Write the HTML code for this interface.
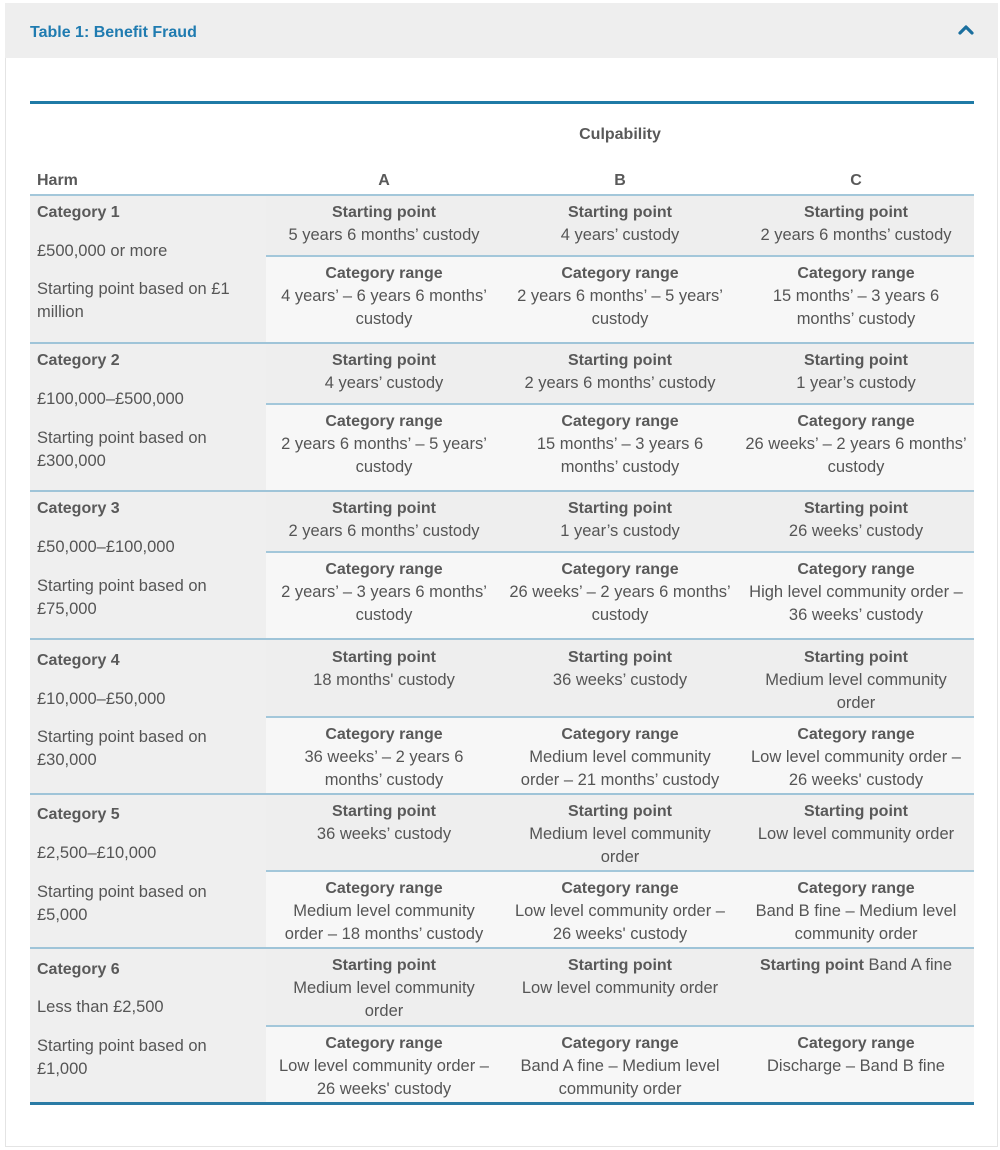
<!DOCTYPE html>
<html><head><meta charset="utf-8"><style>
*{margin:0;padding:0;box-sizing:border-box}
html,body{width:1000px;height:1150px;background:#fff;overflow:hidden}
body{position:relative;font-family:"Liberation Sans",Arial,sans-serif;color:#555}
.card{position:absolute;left:5px;top:3px;width:993px;height:1144px;border:1px solid #e4e4e4;background:#fff}
.hdr{position:absolute;left:5px;top:3px;width:993px;height:55px;background:#eeeeee}
.title{position:absolute;left:30px;top:22px;font-size:16px;font-weight:bold;color:#1f7bb0;line-height:22px;white-space:nowrap}
.r{position:absolute}
.c{position:absolute;width:236px;text-align:center;line-height:23px;font-size:16.5px;white-space:nowrap;margin-top:1px}
.l{position:absolute;left:37px;line-height:23px;font-size:16.5px;white-space:nowrap;margin-top:1px}
b{font-weight:bold;font-size:16px;color:#595959}
.h{font-weight:bold;font-size:16px;color:#595959}
</style></head><body>
<div class="card"></div>
<div class="hdr"></div>
<div class="title">Table 1: Benefit Fraud</div>
<svg class="r" style="left:955px;top:20px" width="22" height="20"><polyline points="5,13 11,7 17,13" fill="none" stroke="#1a6f9e" stroke-width="3.2" stroke-linecap="round" stroke-linejoin="round"/></svg>
<div class="r" style="left:30px;top:101px;width:944px;height:3px;background:#1f7aa6"></div>

<div class="c h" style="left:502px;top:122px">Culpability</div>
<div class="l h" style="top:168px">Harm</div>
<div class="c h" style="left:266px;top:168px">A</div>
<div class="c h" style="left:502px;top:168px">B</div>
<div class="c h" style="left:738px;top:168px">C</div>

<!-- backgrounds -->
<div class="r" style="left:30px;top:195px;width:236px;height:908px;background:#efefef"></div>
<div class="r" style="left:266px;top:195px;width:708px;height:61px;background:#eeeeee"></div>
<div class="r" style="left:266px;top:256px;width:708px;height:87px;background:#f7f7f7"></div>
<div class="r" style="left:266px;top:343px;width:708px;height:61px;background:#eeeeee"></div>
<div class="r" style="left:266px;top:404px;width:708px;height:87px;background:#f7f7f7"></div>
<div class="r" style="left:266px;top:491px;width:708px;height:61px;background:#eeeeee"></div>
<div class="r" style="left:266px;top:552px;width:708px;height:87px;background:#f7f7f7"></div>
<div class="r" style="left:266px;top:639px;width:708px;height:78px;background:#eeeeee"></div>
<div class="r" style="left:266px;top:717px;width:708px;height:77px;background:#f7f7f7"></div>
<div class="r" style="left:266px;top:794px;width:708px;height:77px;background:#eeeeee"></div>
<div class="r" style="left:266px;top:871px;width:708px;height:77px;background:#f7f7f7"></div>
<div class="r" style="left:266px;top:948px;width:708px;height:78px;background:#eeeeee"></div>
<div class="r" style="left:266px;top:1026px;width:708px;height:77px;background:#f7f7f7"></div>

<!-- lines -->
<div class="r" style="left:30px;top:194px;width:944px;height:2px;background:#a3c7da"></div>
<div class="r" style="left:30px;top:342px;width:944px;height:2px;background:#9fc4d8"></div>
<div class="r" style="left:30px;top:490px;width:944px;height:2px;background:#9fc4d8"></div>
<div class="r" style="left:30px;top:638px;width:944px;height:2px;background:#9fc4d8"></div>
<div class="r" style="left:30px;top:793px;width:944px;height:2px;background:#9fc4d8"></div>
<div class="r" style="left:30px;top:947px;width:944px;height:2px;background:#9fc4d8"></div>
<div class="r" style="left:266px;top:255px;width:708px;height:2px;background:#a3c7da"></div>
<div class="r" style="left:266px;top:403px;width:708px;height:2px;background:#a3c7da"></div>
<div class="r" style="left:266px;top:551px;width:708px;height:2px;background:#a3c7da"></div>
<div class="r" style="left:266px;top:716px;width:708px;height:2px;background:#a3c7da"></div>
<div class="r" style="left:266px;top:870px;width:708px;height:2px;background:#a3c7da"></div>
<div class="r" style="left:266px;top:1025px;width:708px;height:2px;background:#a3c7da"></div>
<div class="r" style="left:30px;top:1102px;width:944px;height:3px;background:#2a7ba5"></div>

<!-- left column -->
<div class="l h" style="top:200px">Category 1</div>
<div class="l" style="top:239px">£500,000 or more</div>
<div class="l" style="top:277px">Starting point based on £1<br>million</div>

<div class="l h" style="top:348px">Category 2</div>
<div class="l" style="top:387px">£100,000–£500,000</div>
<div class="l" style="top:426px">Starting point based on<br>£300,000</div>

<div class="l h" style="top:496px">Category 3</div>
<div class="l" style="top:535px">£50,000–£100,000</div>
<div class="l" style="top:574px">Starting point based on<br>£75,000</div>

<div class="l h" style="top:648px">Category 4</div>
<div class="l" style="top:687px">£10,000–£50,000</div>
<div class="l" style="top:725px">Starting point based on<br>£30,000</div>

<div class="l h" style="top:802px">Category 5</div>
<div class="l" style="top:841px">£2,500–£10,000</div>
<div class="l" style="top:880px">Starting point based on<br>£5,000</div>

<div class="l h" style="top:957px">Category 6</div>
<div class="l" style="top:995px">Less than £2,500</div>
<div class="l" style="top:1034px">Starting point based on<br>£1,000</div>

<!-- Cat 1 -->
<div class="c" style="left:266px;top:200px"><b>Starting point</b><br>5 years 6 months’ custody</div>
<div class="c" style="left:502px;top:200px"><b>Starting point</b><br>4 years’ custody</div>
<div class="c" style="left:738px;top:200px"><b>Starting point</b><br>2 years 6 months’ custody</div>
<div class="c" style="left:266px;top:261px"><b>Category range</b><br>4 years’ – 6 years 6 months’<br>custody</div>
<div class="c" style="left:502px;top:261px"><b>Category range</b><br>2 years 6 months’ – 5 years’<br>custody</div>
<div class="c" style="left:738px;top:261px"><b>Category range</b><br>15 months’ – 3 years 6<br>months’ custody</div>

<!-- Cat 2 -->
<div class="c" style="left:266px;top:348px"><b>Starting point</b><br>4 years’ custody</div>
<div class="c" style="left:502px;top:348px"><b>Starting point</b><br>2 years 6 months’ custody</div>
<div class="c" style="left:738px;top:348px"><b>Starting point</b><br>1 year’s custody</div>
<div class="c" style="left:266px;top:409px"><b>Category range</b><br>2 years 6 months’ – 5 years’<br>custody</div>
<div class="c" style="left:502px;top:409px"><b>Category range</b><br>15 months’ – 3 years 6<br>months’ custody</div>
<div class="c" style="left:738px;top:409px"><b>Category range</b><br>26 weeks’ – 2 years 6 months’<br>custody</div>

<!-- Cat 3 -->
<div class="c" style="left:266px;top:496px"><b>Starting point</b><br>2 years 6 months’ custody</div>
<div class="c" style="left:502px;top:496px"><b>Starting point</b><br>1 year’s custody</div>
<div class="c" style="left:738px;top:496px"><b>Starting point</b><br>26 weeks’ custody</div>
<div class="c" style="left:266px;top:557px"><b>Category range</b><br>2 years’ – 3 years 6 months’<br>custody</div>
<div class="c" style="left:502px;top:557px"><b>Category range</b><br>26 weeks’ – 2 years 6 months’<br>custody</div>
<div class="c" style="left:738px;top:557px"><b>Category range</b><br>High level community order –<br>36 weeks’ custody</div>

<!-- Cat 4 -->
<div class="c" style="left:266px;top:645px"><b>Starting point</b><br>18 months' custody</div>
<div class="c" style="left:502px;top:645px"><b>Starting point</b><br>36 weeks’ custody</div>
<div class="c" style="left:738px;top:645px"><b>Starting point</b><br>Medium level community<br>order</div>
<div class="c" style="left:266px;top:722px"><b>Category range</b><br>36 weeks’ – 2 years 6<br>months’ custody</div>
<div class="c" style="left:502px;top:722px"><b>Category range</b><br>Medium level community<br>order – 21 months’ custody</div>
<div class="c" style="left:738px;top:722px"><b>Category range</b><br>Low level community order –<br>26 weeks' custody</div>

<!-- Cat 5 -->
<div class="c" style="left:266px;top:799px"><b>Starting point</b><br>36 weeks’ custody</div>
<div class="c" style="left:502px;top:799px"><b>Starting point</b><br>Medium level community<br>order</div>
<div class="c" style="left:738px;top:799px"><b>Starting point</b><br>Low level community order</div>
<div class="c" style="left:266px;top:876px"><b>Category range</b><br>Medium level community<br>order – 18 months’ custody</div>
<div class="c" style="left:502px;top:876px"><b>Category range</b><br>Low level community order –<br>26 weeks' custody</div>
<div class="c" style="left:738px;top:876px"><b>Category range</b><br>Band B fine – Medium level<br>community order</div>

<!-- Cat 6 -->
<div class="c" style="left:266px;top:953px"><b>Starting point</b><br>Medium level community<br>order</div>
<div class="c" style="left:502px;top:953px"><b>Starting point</b><br>Low level community order</div>
<div class="c" style="left:738px;top:953px"><b>Starting point</b> Band A fine</div>
<div class="c" style="left:266px;top:1031px"><b>Category range</b><br>Low level community order –<br>26 weeks' custody</div>
<div class="c" style="left:502px;top:1031px"><b>Category range</b><br>Band A fine – Medium level<br>community order</div>
<div class="c" style="left:738px;top:1031px"><b>Category range</b><br>Discharge – Band B fine</div>
</body></html>
